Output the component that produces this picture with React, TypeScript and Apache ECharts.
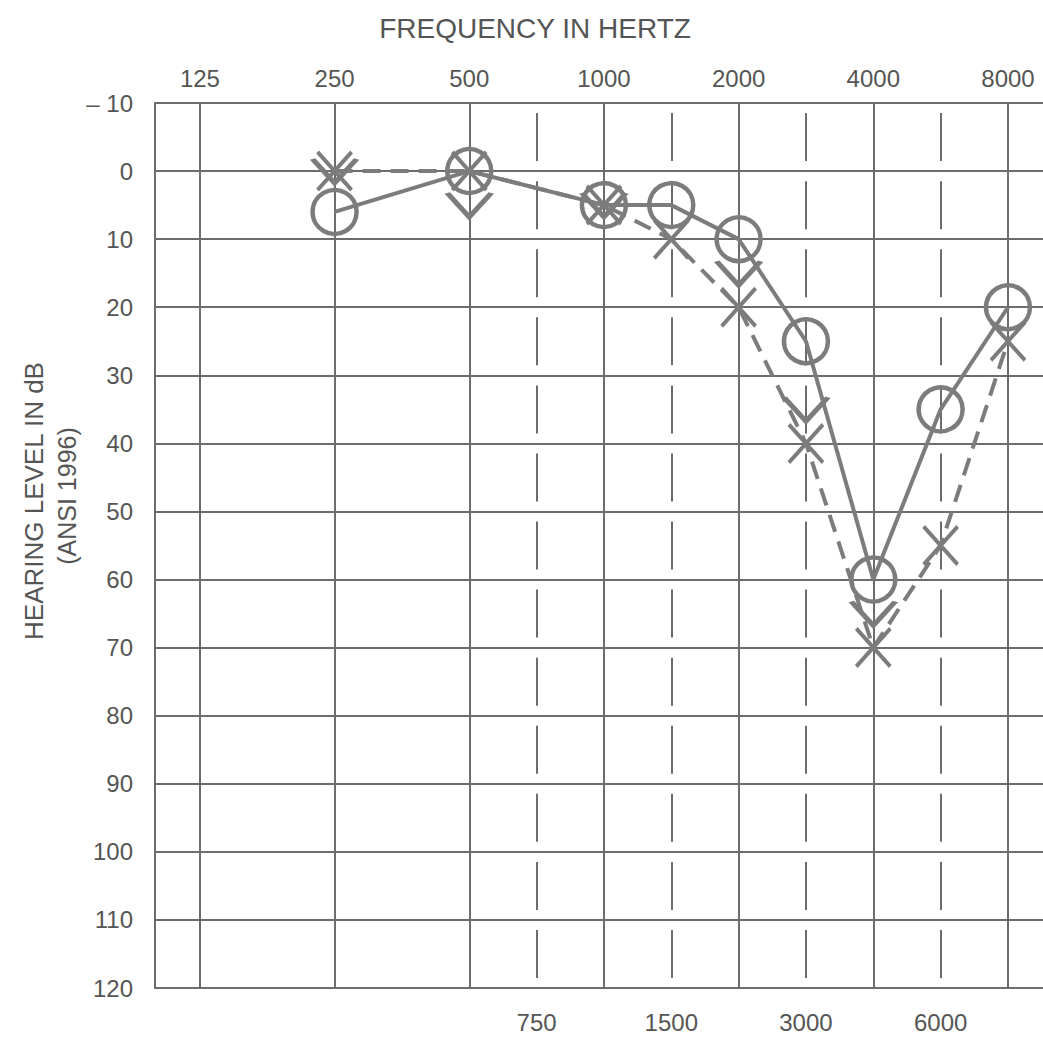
import React, { useEffect, useRef } from 'react';
import * as echarts from 'echarts';

// Frequency layout of the audiogram form
const octaveFreqs = [125, 250, 500, 1000, 2000, 4000, 8000];
const octaveLabels = ['125', '250', '500', '1000', '2000', '4000', '8000'];
const halfOctaveFreqs = [750, 1500, 3000, 6000];
const halfOctaveLabels = ['750', '1500', '3000', '6000'];

// Hearing level axis (dB)
const dbMin = -10;
const dbMax = 120;
const dbStep = 10;

// O symbols (solid line)
const circleFreqs = [250, 500, 1000, 1500, 2000, 3000, 4000, 6000, 8000];
const circleDb = [6, 0, 5, 5, 10, 25, 60, 35, 20];

// X symbols (dashed line)
const crossFreqs = [250, 500, 1000, 1500, 2000, 3000, 4000, 6000, 8000];
const crossDb = [0, 0, 5, 10, 20, 40, 70, 55, 25];

// V symbols (no line)
const vFreqs = [250, 500, 1000, 2000, 3000, 4000];
const vDb = [0, 5, 5, 15, 35, 65];

// octave index from 125 Hz; inter-octave frequencies sit halfway on the form
function freqPos(f: number): number {
  const i = octaveFreqs.indexOf(f);
  if (i >= 0) return i;
  const j = halfOctaveFreqs.indexOf(f);
  return j + 2.5;
}

const MARK = '#7c7c7c';
const GRID = '#6c6c6c';
const TEXT = '#555555';
const FONT = '"Liberation Sans", Arial, Helvetica, sans-serif';

export default function App() {
  const ref = useRef<HTMLDivElement>(null);

  useEffect(() => {
    if (!ref.current) return;
    const chart = echarts.init(ref.current, undefined, { renderer: 'svg' });

    const octPos = octaveFreqs.map(freqPos);
    const halfPos = halfOctaveFreqs.map(freqPos);
    const xMin = -1 / 3;
    const xMax = 6.26;
    const plotH = 885;
    const period = plotH / ((dbMax - dbMin) / dbStep);

    const pair = (fs: number[], ds: number[]) => fs.map((f, i) => [freqPos(f), ds[i]]);

    chart.setOption({
      animation: false,
      backgroundColor: '#ffffff',
      textStyle: { fontFamily: FONT },
      grid: { left: 155, top: 103, height: plotH, right: 0, containLabel: false },
      xAxis: [
        {
          type: 'value',
          position: 'top',
          min: xMin,
          max: xMax,
          axisLine: { show: true, onZero: false, lineStyle: { color: GRID, width: 2 } },
          axisTick: { show: false, customValues: octPos },
          axisLabel: {
            customValues: octPos,
            margin: 13,
            fontSize: 24,
            color: TEXT,
            fontFamily: FONT,
            formatter: (v: number) => {
              const i = octPos.findIndex((p) => Math.abs(p - v) < 1e-6);
              return i >= 0 ? octaveLabels[i] : '';
            },
          },
          splitLine: { show: true, lineStyle: { color: GRID, width: 2 } },
        },
        {
          type: 'value',
          position: 'bottom',
          min: xMin,
          max: xMax,
          axisLine: { show: true, onZero: false, lineStyle: { color: GRID, width: 2 } },
          axisTick: { show: false, customValues: halfPos },
          axisLabel: {
            customValues: halfPos,
            margin: 22,
            fontSize: 24,
            color: TEXT,
            fontFamily: FONT,
            formatter: (v: number) => {
              const i = halfPos.findIndex((p) => Math.abs(p - v) < 1e-6);
              return i >= 0 ? halfOctaveLabels[i] : '';
            },
          },
          splitLine: {
            show: true,
            lineStyle: { color: GRID, width: 2, type: [48, period - 48], dashOffset: 58 },
          },
        },
      ],
      yAxis: {
        type: 'value',
        inverse: true,
        min: dbMin,
        max: dbMax,
        interval: dbStep,
        axisLine: { show: true, onZero: false, lineStyle: { color: GRID, width: 2 } },
        axisTick: { show: false },
        axisLabel: {
          margin: 22,
          fontSize: 24,
          color: TEXT,
          fontFamily: FONT,
          formatter: (v: number) => (v < 0 ? '\u2013 ' + Math.abs(v) : String(v)),
        },
        splitLine: { show: true, lineStyle: { color: GRID, width: 2 } },
      },
      graphic: [
        {
          type: 'text',
          x: 535,
          y: 28,
          style: {
            text: 'FREQUENCY IN HERTZ',
            fill: TEXT,
            fontSize: 28,
            fontFamily: FONT,
            align: 'center',
            verticalAlign: 'middle',
          },
        },
        {
          type: 'text',
          x: 34,
          y: 501,
          rotation: Math.PI / 2,
          style: {
            text: 'HEARING LEVEL IN dB',
            fill: TEXT,
            fontSize: 26,
            fontFamily: FONT,
            align: 'center',
            verticalAlign: 'middle',
          },
        },
        {
          type: 'text',
          x: 67,
          y: 496,
          rotation: Math.PI / 2,
          style: {
            text: '(ANSI 1996)',
            fill: TEXT,
            fontSize: 25,
            fontFamily: FONT,
            align: 'center',
            verticalAlign: 'middle',
          },
        },
      ],
      series: [
        {
          type: 'line',
          xAxisIndex: 0,
          data: pair(circleFreqs, circleDb),
          symbol: 'circle',
          symbolSize: 44,
          itemStyle: { color: 'none', borderColor: MARK, borderWidth: 4.5, opacity: 1 },
          lineStyle: { color: MARK, width: 4 },
          z: 5,
        },
        {
          type: 'line',
          xAxisIndex: 0,
          data: pair(crossFreqs, crossDb),
          symbol: 'path://M0,0L34,38M34,0L0,38',
          symbolSize: [34, 38],
          itemStyle: { color: 'none', borderColor: MARK, borderWidth: 4, opacity: 1 },
          lineStyle: { color: MARK, width: 4, type: [18, 10] },
          z: 5,
        },
        {
          type: 'scatter',
          xAxisIndex: 0,
          data: pair(vFreqs, vDb),
          symbol: 'path://M0,0L22,24L44,0',
          symbolSize: [44, 24],
          itemStyle: { color: 'none', borderColor: MARK, borderWidth: 4.5, opacity: 1 },
          z: 5,
        },
      ],
    });

    return () => chart.dispose();
  }, []);

  return (
    <div
      ref={ref}
      style={{ position: 'absolute', left: 0, top: 0, width: 1043, height: 1037 }}
    />
  );
}
